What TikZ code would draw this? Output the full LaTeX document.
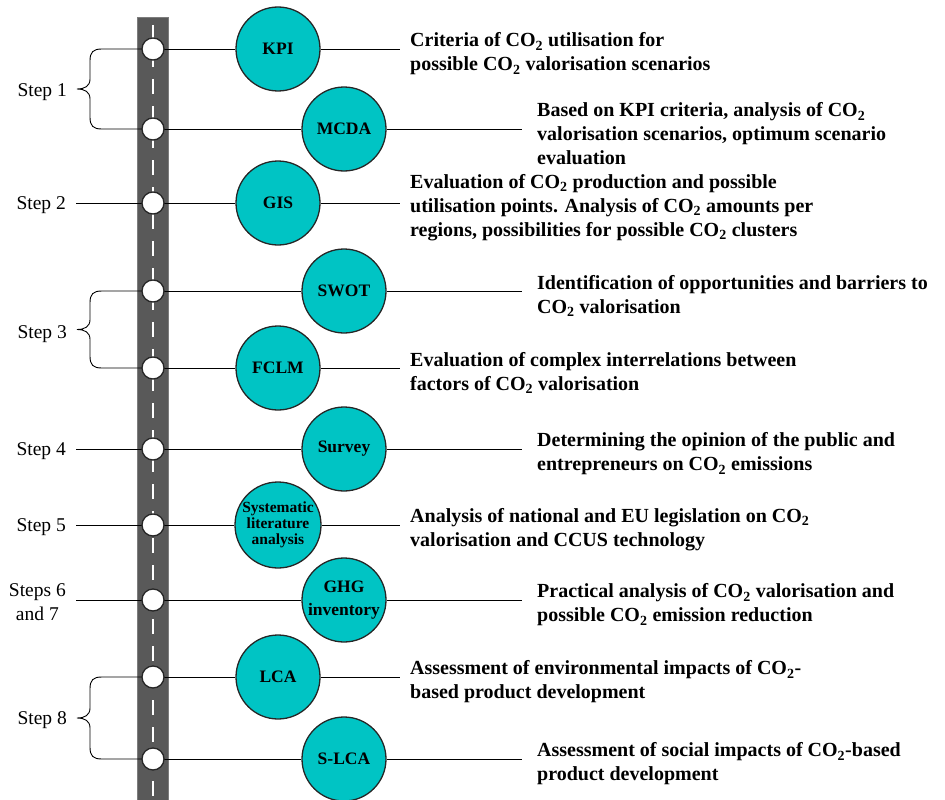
\documentclass[tikz,border=0pt]{standalone}
\usepackage{fontspec}
\setmainfont{Liberation Serif}
\newcommand\COt{CO\textsubscript{2}}
\definecolor{tealfill}{RGB}{0,196,196}
\definecolor{roadgray}{RGB}{89,89,89}
\definecolor{roadedge}{RGB}{125,125,125}
\begin{document}
\begin{tikzpicture}[x=1pt,y=-1pt,
  road/.style={fill=roadgray, draw=roadedge, line width=1pt},
  stop/.style={circle, fill=white, draw=black!85, line width=1.3pt, minimum size=22pt, inner sep=0pt},
  tool/.style={circle, fill=tealfill, draw=black!85, line width=1.3pt, minimum size=84pt, inner sep=0pt, align=center, font=\bfseries\fontsize{17.5}{23}\selectfont},
  desc/.style={anchor=west, align=left, inner xsep=10pt, inner ysep=0pt, yshift=-5pt, font=\bfseries\fontsize{20}{24}\selectfont},
  descR/.style={desc, inner xsep=15pt},
  steplbl/.style={anchor=east, align=center, inner xsep=10pt, yshift=-2.5pt, font=\fontsize{19.5}{24}\selectfont},
  link/.style={line width=0.9pt, black}
]
\useasboundingbox (0,0) rectangle (945,800);
% road
\draw[road] (137,18) rectangle (168,802);
\draw[white, line width=1.2pt, dash pattern=on 15pt off 12pt] (153,25) -- (153,800);

% stops on the road
\foreach \i/\y in {1/49,2/129,3/203,4/291,5/368,6/449,7/525,8/600,9/677,10/759}
  \coordinate (c\i) at (153,\y);

% tools
\node[tool] (t1) at (278,49) {KPI};
\node[tool] (t2) at (344,129) {MCDA};
\node[tool] (t3) at (278,203) {GIS};
\node[tool] (t4) at (344,291) {SWOT};
\node[tool] (t5) at (278,368) {FCLM};
\node[tool] (t6) at (344,449) {Survey};
\node[tool, minimum size=86pt, font=\bfseries\fontsize{15.5}{16}\selectfont] (t7) at (278,525) {Systematic\\literature\\analysis};
\node[tool] (t8) at (344,600) {GHG\\inventory};
\node[tool] (t9) at (278,677) {LCA};
\node[tool] (t10) at (344,759) {S-LCA};

% descriptions
\node[desc] (d1) at (400,49) {Criteria of \COt{} utilisation for\\possible \COt{} valorisation scenarios};
\node[descR] (d2) at (522,129) {Based on KPI criteria, analysis of \COt\\valorisation scenarios, optimum scenario\\evaluation};
\node[desc] (d3) at (400,203) {Evaluation of \COt{} production and possible\\utilisation points. Analysis of \COt{} amounts per\\regions, possibilities for possible \COt{} clusters};
\node[descR] (d4) at (522,291) {Identification of opportunities and barriers to\\\COt{} valorisation};
\node[desc] (d5) at (400,368) {Evaluation of complex interrelations between\\factors of \COt{} valorisation};
\node[descR] (d6) at (522,449) {Determining the opinion of the public and\\entrepreneurs on \COt{} emissions};
\node[desc] (d7) at (400,525) {Analysis of national and EU legislation on \COt\\valorisation and CCUS technology};
\node[descR] (d8) at (522,600) {Practical analysis of \COt{} valorisation and\\possible \COt{} emission reduction};
\node[desc] (d9) at (400,677) {Assessment of environmental impacts of \COt-\\based product development};
\node[descR] (d10) at (522,759) {Assessment of social impacts of \COt-based\\product development};

\foreach \i in {1,...,10}{
  \draw[link] (c\i) -- (t\i.west);
  \draw[link] (t\i.east) -- (t\i.east -| d\i.west);
}

% step labels
\node[steplbl] (l1) at (77,90) {Step 1};
\node[steplbl] (l2) at (76,203) {Step 2};
\node[steplbl] (l3) at (77,332) {Step 3};
\node[steplbl] (l4) at (76,449) {Step 4};
\node[steplbl] (l5) at (76,525) {Step 5};
\node[steplbl] (l6) at (76,600) {Steps 6\\and 7};
\node[steplbl] (l8) at (77,718) {Step 8};

\draw[link] (l2.east |- c3) -- (c3);
\draw[link] (l4.east |- c6) -- (c6);
\draw[link] (l5.east |- c7) -- (c7);
\draw[link] (l6.east |- c8) -- (c8);

% braces
\newcommand\mybrace[3]{% top y, bottom y, label node
  \pgfmathsetmacro\ym{(#1+#2)/2}
  \draw[link] (153,#1) -- (102,#1) .. controls (93,#1) and (90,#1+3) .. (90,#1+12)
    -- (90,\ym-10) .. controls (90,\ym-3) and (85,\ym) .. (#3.east |- 0,\ym)
    .. controls (85,\ym) and (90,\ym+3) .. (90,\ym+10)
    -- (90,#2-12) .. controls (90,#2-3) and (93,#2) .. (102,#2) -- (153,#2);
}
\mybrace{49}{129}{l1}
\mybrace{291}{368}{l3}
\mybrace{677}{759}{l8}

\foreach \i in {1,...,10}
  \node[stop] (s\i) at (c\i) {};
\end{tikzpicture}
\end{document}
